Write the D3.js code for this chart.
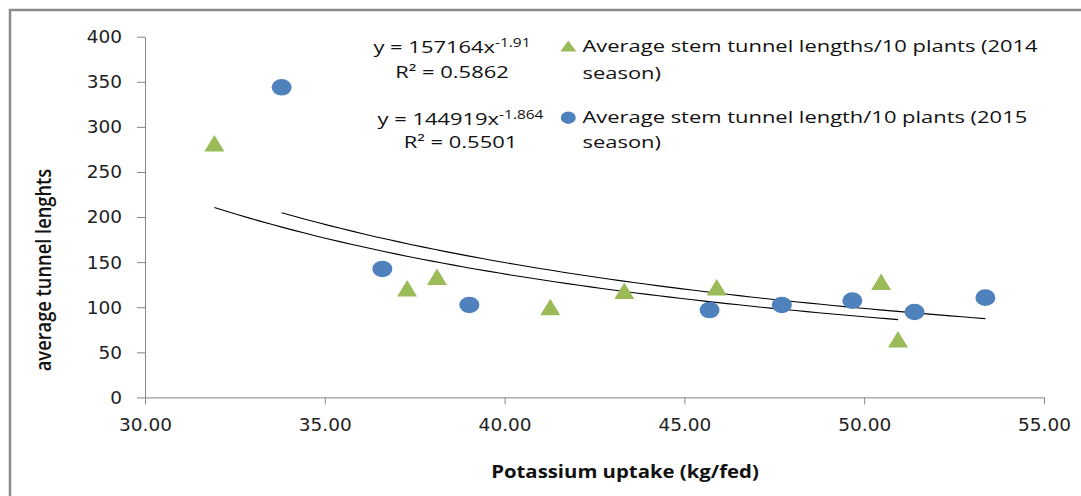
<!DOCTYPE html>
<html>
<head>
<meta charset="utf-8">
<script src="https://cdn.jsdelivr.net/npm/d3@7"></script>
<style>
  body { margin: 0; background: #fff; }
  svg { display: block; }
  .axis path, .axis line { stroke: #868686; }
  .axis text { font-family: "DejaVu Sans", Verdana, sans-serif; font-size: 18.5px; fill: #222; }
  .lbl { font-family: "Open Sans", sans-serif; fill: #111; }
</style>
</head>
<body>
<div id="container"></div>
<script>
// 2014 season (triangles)
var potassium2014 = [31.93, 37.29, 38.12, 41.27, 43.33, 45.90, 50.47, 50.94];
var tunnel2014 = [281.8, 121.0, 133.9, 100.2, 118.3, 122.1, 128.3, 64.4];
// 2015 season (circles)
var potassium2015 = [33.80, 36.60, 39.02, 45.70, 47.71, 49.67, 51.40, 53.37];
var tunnel2015 = [343.9, 142.4, 102.5, 96.9, 102.5, 107.3, 94.7, 110.6];

// power trendlines y = a * x^b
var trendCoef = [157164, 144919];
var trendExp = [-1.91, -1.864];
var trendR2 = ["0.5862", "0.5501"];
var trendExpLabel = ["-1.91", "-1.864"];

var legendLines = [
	["Average stem tunnel lengths/10 plants (2014", "season)"],
	["Average stem tunnel length/10 plants (2015", "season)"]
];

var xTicks = [30, 35, 40, 45, 50, 55];
var yTicks = [0, 50, 100, 150, 200, 250, 300, 350, 400];

var W = 1081, H = 496;
var SX = 1.29; // the picture is stretched sideways

var svg = d3.select("#container").append("svg")
	.attr("width", W)
	.attr("height", H);

svg.append("rect").attr("width", W).attr("height", H).attr("fill", "#fff");

// chart border (only top & left visible)
svg.append("rect")
	.attr("x", 10).attr("y", 10)
	.attr("width", W + 20).attr("height", H + 20)
	.attr("fill", "none")
	.attr("stroke", "#8a8a8a")
	.attr("stroke-width", 2.5);

var x = d3.scaleLinear().domain([30, 55]).range([145, 1044]);
var y = d3.scaleLinear().domain([0, 400]).range([397.4, 36.7]);

var xAxis = d3.axisBottom(x).tickValues(xTicks).tickFormat(d3.format(".2f"))
	.tickSizeInner(7).tickSizeOuter(0).tickPadding(13);
var yAxis = d3.axisLeft(y).tickValues(yTicks)
	.tickSizeInner(8).tickSizeOuter(0).tickPadding(15);

svg.append("g")
	.attr("class", "x axis")
	.attr("transform", "translate(0," + y(0) + ")")
	.call(xAxis);

svg.append("g")
	.attr("class", "y axis")
	.attr("transform", "translate(" + x(30) + ",0)")
	.call(yAxis);

// trendlines
var line = d3.line().x(d => x(d[0])).y(d => y(d[1]));
[[potassium2014], [potassium2015]].forEach(function(s, i) {
	var ext = d3.extent(s[0]);
	var pts = d3.range(0, 61).map(function(k) {
		var xv = ext[0] + (ext[1] - ext[0]) * k / 60;
		return [xv, trendCoef[i] * Math.pow(xv, trendExp[i])];
	});
	svg.append("path")
		.datum(pts)
		.attr("d", line)
		.attr("fill", "none")
		.attr("stroke", "#000")
		.attr("stroke-width", 1.1);
});

function triPath(w, h) {
	return "M0," + (-h / 2) + "L" + (w / 2) + "," + (h / 2) + "L" + (-w / 2) + "," + (h / 2) + "Z";
}

var green = "#9BBB59", blue = "#4F81BD";

svg.append("g").selectAll("path")
	.data(d3.zip(potassium2014, tunnel2014))
	.join("path")
	.attr("d", triPath(20, 16.5))
	.attr("transform", d => "translate(" + x(d[0]) + "," + y(d[1]) + ")")
	.attr("fill", green);

svg.append("g").selectAll("ellipse")
	.data(d3.zip(potassium2015, tunnel2015))
	.join("ellipse")
	.attr("cx", d => x(d[0]))
	.attr("cy", d => y(d[1]))
	.attr("rx", 10)
	.attr("ry", 8.3)
	.attr("fill", blue);

// helper for sideways-stretched text
function stext(px, py, size, anchor) {
	return svg.append("g")
		.attr("transform", "translate(" + px + "," + py + ") scale(" + SX + ",1)")
		.append("text")
		.attr("class", "lbl")
		.attr("text-anchor", anchor)
		.style("font-size", size + "px");
}

// equations
var eqPos = [[452, 53, 78], [460.5, 125, 148]];
trendCoef.forEach(function(a, i) {
	var t = stext(eqPos[i][0], eqPos[i][1], 17, "middle");
	t.append("tspan").text("y = " + a + "x");
	t.append("tspan").attr("dy", -6).style("font-size", "12px").text(trendExpLabel[i]);
	stext(eqPos[i][0], eqPos[i][2], 17, "middle").text("R\u00b2 = " + trendR2[i]);
});

// legend
var legY = [[46, 51.7, 79], [117.7, 123.3, 148.3]];
svg.append("path")
	.attr("d", triPath(16, 11))
	.attr("transform", "translate(568.3," + legY[0][0] + ")")
	.attr("fill", green);
svg.append("ellipse")
	.attr("cx", 568.3).attr("cy", legY[1][0])
	.attr("rx", 7.5).attr("ry", 6.2)
	.attr("fill", blue);
legendLines.forEach(function(lines, i) {
	lines.forEach(function(s, j) {
		stext(582.5, legY[i][1 + j], 17, "start").text(s);
	});
});

// axis titles
svg.append("g")
	.attr("transform", "translate(625,478) scale(1.13,1)")
	.append("text")
	.attr("class", "lbl")
	.attr("text-anchor", "middle")
	.style("font-size", "18px")
	.style("font-weight", "bold")
	.text("Potassium uptake (kg/fed)");

svg.append("g")
	.attr("transform", "translate(51,270) scale(1.2,1) rotate(-90)")
	.append("text")
	.attr("class", "lbl")
	.attr("text-anchor", "middle")
	.style("font-size", "18.3px")
	.style("font-weight", 600)
	.text("average tunnel lenghts");
</script>
</body>
</html>
